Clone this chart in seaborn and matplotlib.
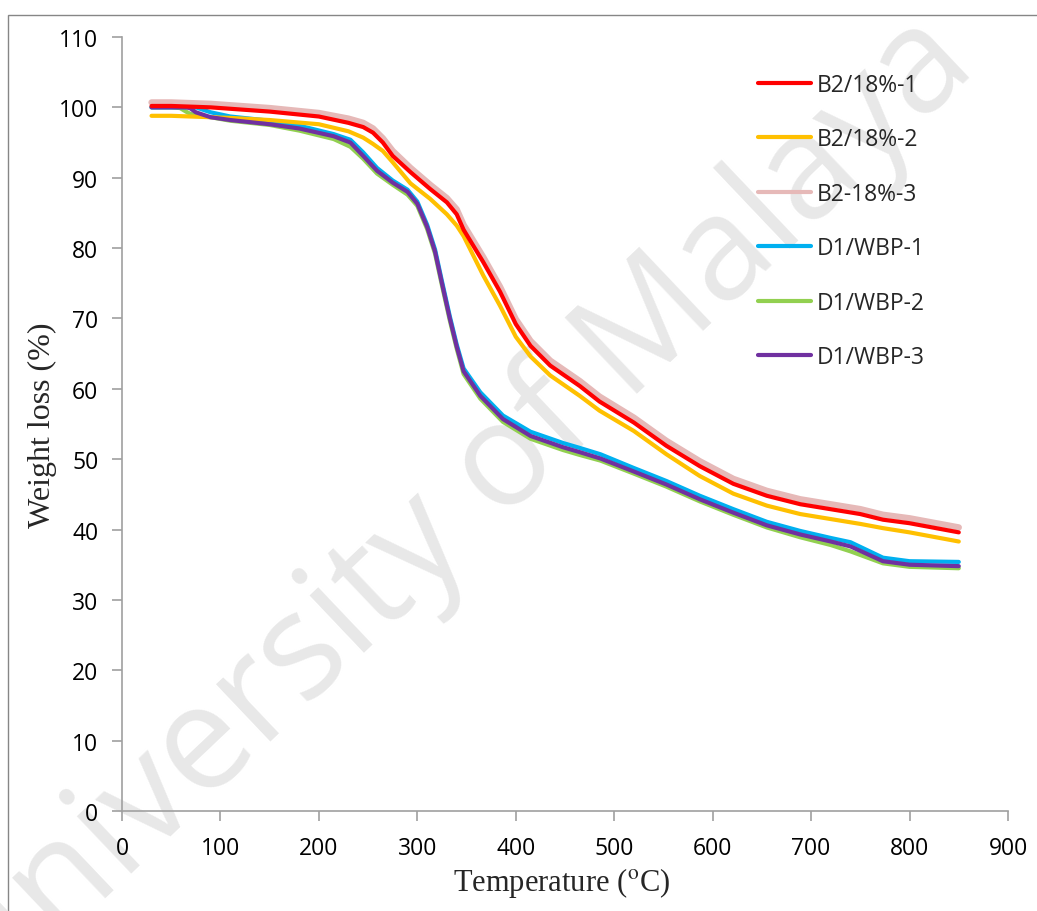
import numpy as np
import pandas as pd
import matplotlib
matplotlib.use("Agg")
import matplotlib.pyplot as plt
from matplotlib.patches import Rectangle
import seaborn as sns

# ---------------- data ----------------
temp_b = [30, 50, 70, 90, 110, 150, 200, 230, 245, 255, 265, 275, 293, 313, 330, 340, 347, 367,
          384, 400, 415, 435, 465, 485, 520, 553, 587, 621, 655, 689, 750, 773, 800, 850]
b2_1 = [100.2, 100.2, 100.1, 100.0, 99.8, 99.4, 98.7, 97.8, 97.2, 96.4, 95.0, 93.1, 90.8, 88.4, 86.5,
        84.8, 82.6, 78.0, 73.8, 69.2, 66.1, 63.3, 60.4, 58.2, 55.2, 51.9, 49.0, 46.5, 44.8, 43.6,
        42.2, 41.4, 40.9, 39.6]
b2_2 = [98.8, 98.8, 98.7, 98.6, 98.5, 98.2, 97.6, 96.6, 95.7, 94.8, 93.8, 92.2, 89.2, 87.0, 84.8,
        83.2, 81.7, 76.1, 71.8, 67.4, 64.6, 61.9, 59.0, 56.9, 54.0, 50.7, 47.6, 45.1, 43.4, 42.2,
        40.8, 40.2, 39.6, 38.3]
b2_3 = [100.7, 100.7, 100.6, 100.5, 100.3, 99.9, 99.2, 98.4, 97.8, 97.0, 95.6, 93.8, 91.4, 89.0, 87.1,
        85.5, 83.3, 78.7, 74.5, 69.9, 66.8, 64.0, 61.1, 58.9, 55.9, 52.6, 49.7, 47.2, 45.5, 44.3,
        42.9, 42.1, 41.6, 40.3]

temp_d = [30, 50, 59, 65, 69, 75, 90, 110, 150, 180, 215, 232, 245, 259, 275, 290, 300, 310, 318,
          325, 333, 340, 347, 364, 387, 415, 448, 465, 486, 519, 553, 587, 621, 655, 689, 720,
          740, 773, 800, 850]
d1_1 = [100.0, 100.0, 100.0, 100.0, 100.0, 100.0, 99.3, 98.7, 98.1, 97.4, 96.2, 95.4, 93.6, 91.4,
        89.6, 88.3, 86.6, 83.3, 79.8, 75.3, 70.3, 66.3, 62.9, 59.5, 56.2, 53.9, 52.3, 51.6, 50.7,
        48.8, 46.9, 44.8, 42.9, 41.1, 39.8, 38.8, 38.2, 36.0, 35.5, 35.4]
d1_2 = [100.0, 100.0, 99.9, 99.4, 99.1, 98.9, 98.6, 98.1, 97.5, 96.7, 95.5, 94.4, 92.7, 90.6,
        89.0, 87.6, 86.0, 82.7, 79.2, 74.7, 69.7, 65.7, 62.1, 58.6, 55.3, 52.9, 51.3, 50.6, 49.8,
        48.0, 46.1, 44.0, 42.1, 40.3, 38.9, 37.8, 36.9, 35.2, 34.7, 34.5]
d1_3 = [100.0, 100.0, 100.0, 100.0, 99.9, 99.3, 98.6, 98.2, 97.6, 97.0, 95.9, 95.0, 93.1, 91.0,
        89.3, 88.0, 86.3, 83.0, 79.5, 75.0, 70.0, 66.0, 62.5, 59.0, 55.7, 53.3, 51.7, 51.0, 50.1,
        48.3, 46.4, 44.3, 42.4, 40.6, 39.3, 38.3, 37.6, 35.5, 35.0, 34.8]

series_names = ["B2/18%-1", "B2/18%-2", "B2-18%-3", "D1/WBP-1", "D1/WBP-2", "D1/WBP-3"]
series_x = [temp_b, temp_b, temp_b, temp_d, temp_d, temp_d]
series_y = [b2_1, b2_2, b2_3, d1_1, d1_2, d1_3]
colors = ["#FF0000", "#FFC000", "#E6B9B8", "#00B0F0", "#92D050", "#7030A0"]
widths = [3.0, 3.0, 4.6, 3.0, 3.0, 3.0]
zorders = [6, 5, 4, 4, 3, 5]

x_ticks = list(range(0, 1000, 100))
y_ticks = list(range(0, 120, 10))

# ---------------- style ----------------
sns.set_theme(style="white")
plt.rcParams["font.family"] = ["Open Sans", "DejaVu Sans"]
plt.rcParams["mathtext.fontset"] = "stix"

fig = plt.figure(figsize=(10.37, 9.12), dpi=100)
fig.patch.set_facecolor("white")

# watermark (behind the plot)
fig.text(453 / 1037, 1 - 515 / 912, "University of Malaya", fontsize=105,
         color="#E8E8E8", rotation=43.5, ha="center", va="center",
         rotation_mode="anchor", family=["Open Sans", "DejaVu Sans"], zorder=0)

# outer frame
fig.patches.append(Rectangle((8 / 1037, -0.1), 2.0, (1 - 16 / 912) + 0.1,
                             transform=fig.transFigure, fill=False,
                             edgecolor="#868686", linewidth=1.0, zorder=0))

ax = fig.add_axes([122 / 1037, 1 - 812 / 912, (1008 - 122) / 1037, (812 - 38) / 912])
ax.set_zorder(2)
ax.patch.set_alpha(0)

for name, xs, ys, c, w, z in zip(series_names, series_x, series_y, colors, widths, zorders):
    df = pd.DataFrame({"T": xs, "W": ys})
    sns.lineplot(data=df, x="T", y="W", ax=ax, color=c, linewidth=w, label=name,
                 sort=False, estimator=None, zorder=z, solid_capstyle="round")

ax.set_xlim(0, 900)
ax.set_ylim(0, 110)
ax.set_xticks(x_ticks)
ax.set_yticks(y_ticks)
ax.set_xticklabels([str(v) for v in x_ticks])
ax.set_yticklabels([str(v) for v in y_ticks])

for s in ["top", "right"]:
    ax.spines[s].set_visible(False)
for s in ["left", "bottom"]:
    ax.spines[s].set_color("#A0A0A0")
    ax.spines[s].set_linewidth(1.2)

ax.tick_params(axis="both", which="major", direction="out", length=7, width=1.2,
               color="#A0A0A0", labelsize=16.5, labelcolor="black")
ax.tick_params(axis="y", pad=10, left=True)
ax.tick_params(axis="x", pad=11, bottom=True)

ax.set_xlabel(r"Temperature ($^{\mathrm{o}}$C)", family=["Liberation Serif"], fontsize=22)
ax.set_ylabel("Weight loss (%)", family=["Liberation Serif"], fontsize=23)
ax.xaxis.set_label_coords(0.4966, -0.070)
ax.yaxis.set_label_coords(-0.073, 0.5)

handles, labels = ax.get_legend_handles_labels()
leg = ax.legend(handles, labels, loc="upper left",
                bbox_to_anchor=(758 / 1037, 1 - 74 / 912), bbox_transform=fig.transFigure,
                frameon=False, fontsize=16.5, handlelength=2.3, handletextpad=0.25,
                labelspacing=1.33, borderpad=0, borderaxespad=0)
for lh in leg.get_lines():
    lh.set_linewidth(3.0)

fig.savefig("out.png", dpi=100, facecolor="white")
